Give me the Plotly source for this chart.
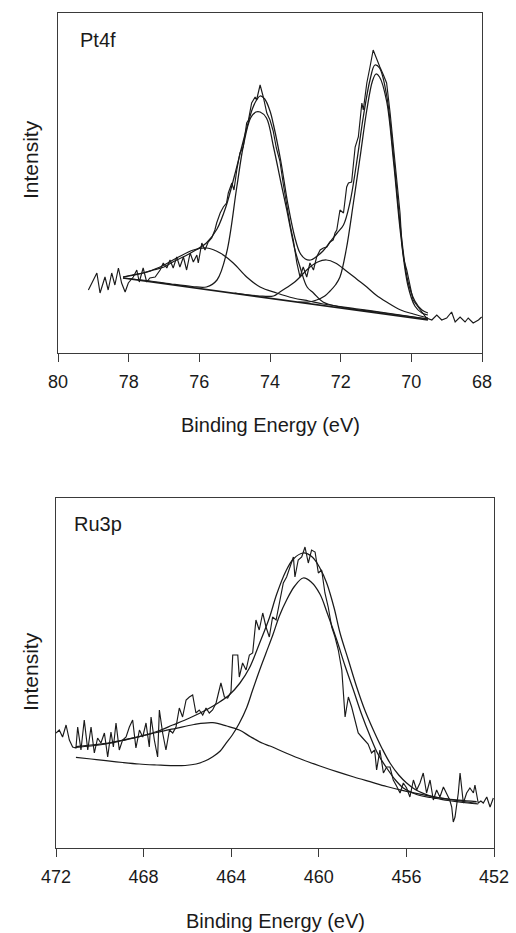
import plotly.graph_objects as go

# ---------------- Pt4f panel data (binding energy in eV, intensity in arbitrary units) ----------------
pt_raw_be = [79.14, 78.90, 78.81, 78.67, 78.58, 78.48, 78.39, 78.29, 78.20, 78.10, 78.01, 77.87, 77.77, 77.70,
             77.59, 77.49, 77.40, 77.25, 77.11, 77.02, 76.92, 76.83, 76.74, 76.64, 76.55, 76.45, 76.36, 76.26,
             76.17, 76.07, 76.03, 75.93, 75.84, 75.75, 75.65, 75.56, 75.51, 75.41, 75.32, 75.23, 75.18, 75.08,
             75.02, 74.94, 74.85, 74.76, 74.66, 74.61, 74.52, 74.42, 74.38, 74.28, 74.19, 74.09, 74.00, 73.91,
             73.82, 73.72, 73.62, 73.53, 73.43, 73.34, 73.24, 73.15, 73.06, 72.96, 72.87, 72.77, 72.68, 72.58,
             72.49, 72.39, 72.30, 72.21, 72.16, 72.11, 72.02, 71.92, 71.83, 71.78, 71.69, 71.59, 71.50, 71.40,
             71.36, 71.26, 71.22, 71.17, 71.08, 70.98, 70.89, 70.79, 70.70, 70.60, 70.51, 70.41, 70.32, 70.27,
             70.21, 70.13, 70.04, 69.95, 69.85, 69.71, 69.57, 69.42, 69.28, 69.14, 69.00, 68.86, 68.76, 68.62,
             68.48, 68.39, 68.25, 68.10, 68.01]
pt_raw_int = [63, 80, 60, 76, 63, 80, 68, 85, 70, 61, 70, 76, 83, 71,
              85, 71, 75, 76, 83, 90, 85, 93, 85, 96, 86, 96, 83, 100,
              91, 98, 90, 110, 103, 111, 115, 123, 130, 140, 146, 150, 160, 170,
              163, 183, 200, 206, 230, 233, 250, 256, 253, 268, 256, 240, 233, 222,
              205, 192, 168, 148, 128, 113, 90, 76, 86, 76, 90, 83, 96, 103,
              105, 106, 111, 113, 120, 123, 143, 140, 166, 170, 171, 206, 216, 250,
              243, 270, 276, 286, 303, 293, 286, 278, 270, 240, 210, 172, 140, 110,
              93, 83, 66, 53, 48, 41, 35, 33, 38, 33, 35, 41, 31, 36,
              31, 35, 30, 33, 36]

pt_env_be = [78.16, 77.9, 77.6, 77.3, 77.0, 76.7, 76.4, 76.1, 75.8, 75.5, 75.25, 75.0, 74.8, 74.65, 74.5, 74.38,
             74.28, 74.15, 74.0, 73.9, 73.7, 73.5, 73.3, 73.15, 73.0, 72.85, 72.7, 72.5, 72.3, 72.1, 71.92,
             71.74, 71.55, 71.36, 71.17, 71.03, 70.9, 70.7, 70.5, 70.3, 70.1, 69.9, 69.7, 69.53]
pt_env_int = [76, 78, 80, 83, 86, 92, 97, 103, 110, 124, 146, 178, 206, 226, 244, 253,
              257, 254, 242, 228, 193, 150, 116, 100, 94, 93, 96, 102, 111, 120, 128,
              150, 190, 236, 273, 288, 285, 258, 196, 123, 72, 52, 43, 40]

pt_bg_be = [78.16, 69.53]
pt_bg_int = [75, 33]

pt_a_be = [78.16, 77.5, 76.8, 76.2, 75.8, 75.5, 75.23, 74.94, 74.75, 74.55, 74.4, 74.28, 74.1, 73.9, 73.7,
           73.53, 73.3, 73.15, 72.95, 72.77, 72.5, 72.0, 71.0, 69.53]
pt_a_int = [75, 72.5, 69, 66.5, 66, 73, 100, 166, 208, 235, 241, 241, 235, 206, 172,
            144, 104, 86, 66, 60, 51, 46, 41, 34]

pt_b_be = [73.2, 72.9, 72.68, 72.45, 72.3, 72.15, 72.02, 71.84, 71.64, 71.45, 71.26, 71.1, 71.0, 70.9,
           70.7, 70.5, 70.3, 70.1, 69.9, 69.7, 69.53]
pt_b_int = [51, 51, 53, 57, 62, 68, 76, 104, 150, 196, 243, 272, 279, 276,
            252, 190, 118, 68, 47, 40, 38]

pt_c_be = [78.16, 77.59, 77.11, 76.64, 76.17, 75.79, 75.41, 75.04, 74.66, 74.28, 73.81, 73.34, 72.9, 72.5,
           71.5, 70.5, 69.53]
pt_c_int = [76, 80, 86, 95, 103, 105, 100, 90, 76, 66, 60, 55, 52, 49,
            44, 39, 34]

pt_d_be = [75.0, 74.3, 73.9, 73.72, 73.5, 73.3, 73.15, 72.9, 72.65, 72.4, 72.15, 71.84, 71.55, 71.26,
           71.0, 70.7, 70.3, 69.94, 69.53]
pt_d_int = [60, 57, 57, 61, 66, 71, 76, 85, 91, 93, 90, 82, 74, 66,
            58, 51, 43, 39, 35]

# ---------------- Ru3p panel data ----------------
ru_raw_be = [472.0, 471.85, 471.70, 471.54, 471.39, 471.24, 471.09, 471.01, 470.86, 470.71, 470.55, 470.40,
             470.25, 470.10, 469.95, 469.79, 469.64, 469.49, 469.38, 469.26, 469.11, 468.96, 468.80, 468.65,
             468.50, 468.35, 468.19, 468.04, 467.89, 467.74, 467.66, 467.51, 467.36, 467.28, 467.13, 466.98,
             466.82, 466.67, 466.52, 466.37, 466.22, 466.06, 465.91, 465.76, 465.61, 465.46, 465.30, 465.15,
             465.00, 464.85, 464.69, 464.47, 464.31, 464.16, 464.01, 463.93, 463.70, 463.63, 463.48, 463.32,
             463.17, 463.02, 462.87, 462.72, 462.56, 462.41, 462.26, 462.11, 461.95, 461.77, 461.62, 461.47,
             461.32, 461.16, 461.09, 460.94, 460.78, 460.63, 460.48, 460.33, 460.17, 460.02, 459.87, 459.72,
             459.57, 459.41, 459.26, 459.11, 458.95, 458.80, 458.65, 458.50, 458.35, 458.20, 458.04, 457.90,
             457.75, 457.59, 457.45, 457.36, 457.21, 457.05, 456.90, 456.75, 456.60, 456.45, 456.29, 456.14,
             455.99, 455.84, 455.68, 455.53, 455.38, 455.23, 455.08, 454.92, 454.77, 454.62, 454.47, 454.31,
             454.16, 454.02, 453.93, 453.86, 453.78, 453.63, 453.55, 453.40, 453.25, 453.10, 452.94, 452.87,
             452.72, 452.60, 452.49, 452.33, 452.18, 452.03]
ru_raw_int = [115, 118, 111, 123, 108, 101, 100, 121, 98, 128, 98, 121,
              95, 110, 105, 115, 91, 116, 101, 125, 98, 108, 111, 121,
              128, 100, 118, 111, 125, 101, 131, 108, 91, 138, 115, 98,
              118, 115, 121, 140, 131, 148, 151, 153, 135, 138, 133, 140,
              135, 138, 145, 165, 151, 150, 156, 193, 193, 171, 185, 178,
              193, 195, 228, 218, 235, 221, 211, 231, 228, 248, 265, 271,
              281, 291, 271, 288, 291, 301, 285, 298, 296, 275, 278, 255,
              241, 221, 211, 198, 178, 131, 151, 141, 128, 115, 111, 108,
              104, 95, 98, 78, 98, 75, 81, 81, 68, 62, 55, 65,
              60, 51, 68, 58, 65, 75, 55, 68, 48, 58, 51, 61,
              55, 48, 41, 26, 31, 55, 75, 45, 55, 60, 55, 63,
              45, 47, 45, 51, 41, 50]

ru_env_be = [471.09, 470.4, 469.72, 468.95, 468.2, 467.4, 466.67, 465.9, 465.15, 464.6, 464.09, 463.6, 463.17,
             462.7, 462.26, 461.92, 461.5, 461.16, 460.71, 460.3, 459.95, 459.64, 459.3, 459.03, 458.65,
             458.27, 457.9, 457.51, 457.1, 456.75, 456.35, 455.99, 455.6, 455.23, 454.8, 454.32, 453.6, 452.79]
ru_env_int = [100.7, 102, 104, 107.5, 111.3, 116.5, 123, 130, 138, 145, 153, 165, 180,
              205, 230, 254, 277, 289, 295, 291, 280, 265, 240, 215, 188,
              161, 138, 118, 99, 85, 73, 65, 58.5, 54.7, 51.5, 49.7, 47.8, 46.3]

ru_main_be = [471.09, 470.4, 469.72, 468.95, 468.2, 467.4, 466.67, 466.1, 465.6, 465.2, 464.84, 464.5, 464.24,
              463.95, 463.63, 463.3, 463.02, 462.7, 462.41, 462.1, 461.8, 461.47, 461.1, 460.71, 460.35,
              459.95, 459.6, 459.18, 458.8, 458.42, 458.05, 457.66, 457.3, 456.9, 456.5, 456.14, 455.7,
              455.38, 454.9, 454.62, 454.1, 453.7, 453.2, 452.72]
ru_main_int = [90.7, 89, 87.3, 85.5, 84, 83, 82.3, 82.5, 84, 87, 91.3, 97, 104.7,
               113, 124.7, 140, 158, 178, 195, 213, 232, 248, 262, 270, 266,
               254, 234, 208, 182, 158, 134, 112, 94, 80, 68, 60, 55,
               52.5, 50.5, 49.5, 47.5, 46.3, 45, 44]

ru_broad_be = [471.09, 470.4, 469.72, 468.95, 468.2, 467.4, 466.52, 465.7, 464.84, 464.2, 463.63, 463.1, 462.56,
               462.23, 461.5, 460.71, 459.95, 459.18, 458.4, 457.66, 456.9, 456.14, 455.38, 454.62, 453.7,
               452.79]
ru_broad_int = [101.3, 103, 104.7, 108, 111.3, 115.5, 119.7, 123.5, 125.3, 122, 118, 111, 104.7,
                102, 95, 88, 82, 76.3, 71, 66.3, 61.5, 57.3, 53.8, 50.7, 47.5,
                44.7]

pt_ticks = [80, 78, 76, 74, 72, 70, 68]
ru_ticks = [472, 468, 464, 460, 456, 452]

W, H = 516, 933
FONT = "Liberation Sans, Arial, sans-serif"
INK = "#1a1a1a"

fig = go.Figure()


def add_line(x, y, xa, ya, width=1.25, color=INK, smooth=True):
    fig.add_trace(go.Scatter(
        x=x, y=y, mode="lines", xaxis=xa, yaxis=ya,
        line=dict(color=color, width=width, shape="spline" if smooth else "linear", smoothing=1.0),
        hoverinfo="skip", showlegend=False))


# top panel
add_line(pt_bg_be, pt_bg_int, "x", "y", width=1.7, smooth=False)
add_line(pt_a_be, pt_a_int, "x", "y")
add_line(pt_b_be, pt_b_int, "x", "y")
add_line(pt_c_be, pt_c_int, "x", "y")
add_line(pt_d_be, pt_d_int, "x", "y")
add_line(pt_env_be, pt_env_int, "x", "y")
add_line(pt_raw_be, pt_raw_int, "x", "y", width=1.15, smooth=False)

# bottom panel
add_line(ru_main_be, ru_main_int, "x2", "y2")
add_line(ru_broad_be, ru_broad_int, "x2", "y2")
add_line(ru_env_be, ru_env_int, "x2", "y2")
add_line(ru_raw_be, ru_raw_int, "x2", "y2", width=1.15, smooth=False)

axis_common = dict(showline=True, linecolor="#3a3a3a", linewidth=1, mirror=True,
                   showgrid=False, zeroline=False)

fig.update_layout(
    width=W, height=H,
    margin=dict(l=0, r=0, t=0, b=0),
    paper_bgcolor="white", plot_bgcolor="white",
    font=dict(family=FONT, color=INK),
    xaxis=dict(domain=[58 / W, 482 / W], range=[80, 68], anchor="y",
               tickmode="array", tickvals=pt_ticks, ticks="outside", ticklen=8, tickcolor="#3a3a3a",
               tickfont=dict(size=18, family=FONT, color=INK), ticklabelstandoff=4, automargin=False,
               **axis_common),
    yaxis=dict(domain=[(H - 353) / H, (H - 13) / H], range=[0, 340], anchor="x",
               showticklabels=False, ticks="", automargin=False, **axis_common),
    xaxis2=dict(domain=[56 / W, 494 / W], range=[472, 452], anchor="y2",
                tickmode="array", tickvals=ru_ticks, ticks="outside", ticklen=8, tickcolor="#3a3a3a",
                tickfont=dict(size=18, family=FONT, color=INK), ticklabelstandoff=4, automargin=False,
                **axis_common),
    yaxis2=dict(domain=[(H - 848) / H, (H - 498) / H], range=[0, 350], anchor="x2",
                showticklabels=False, ticks="", automargin=False, **axis_common),
)

annotations = [
    dict(text="Pt4f", x=78 / W, y=1 - 40 / H, xanchor="left", yanchor="middle", font=dict(size=20)),
    dict(text="Ru3p", x=72 / W, y=1 - 524 / H, xanchor="left", yanchor="middle", font=dict(size=20)),
    dict(text="Binding Energy (eV)", x=270 / W, y=1 - 425 / H, xanchor="center", yanchor="middle",
         font=dict(size=20)),
    dict(text="Binding Energy (eV)", x=275 / W, y=1 - 921 / H, xanchor="center", yanchor="middle",
         font=dict(size=20)),
    dict(text="Intensity", x=30 / W, y=1 - 160 / H, xanchor="center", yanchor="middle", textangle=-90,
         font=dict(size=21)),
    dict(text="Intensity", x=30 / W, y=1 - 672 / H, xanchor="center", yanchor="middle", textangle=-90,
         font=dict(size=21)),
]
for a in annotations:
    a.update(xref="paper", yref="paper", showarrow=False)
fig.update_layout(annotations=annotations)

fig.write_html("out.html")
